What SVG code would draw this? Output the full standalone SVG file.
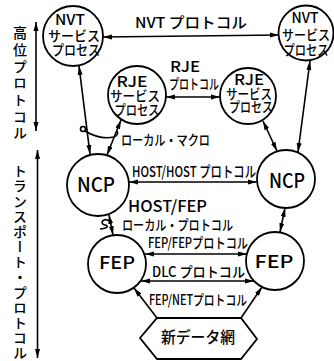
<svg xmlns="http://www.w3.org/2000/svg" width="334" height="361" viewBox="0 0 334 361">
<style>
.t{font-family:"Noto Sans CJK JP","Noto Sans",sans-serif;fill:#000;font-weight:500}
.m{text-anchor:middle}
.c{fill:#fff;stroke:#000;stroke-width:1.8}
.l{stroke:#000;stroke-width:1.6;fill:none}
.v{writing-mode:vertical-rl}
</style>
<defs>
<marker id="a" viewBox="0 0 9 6" refX="9" refY="3" markerWidth="9" markerHeight="6" markerUnits="userSpaceOnUse" orient="auto-start-reverse">
<path d="M0,0.5 L9,3 L0,5.5 z" fill="#000"/>
</marker>
</defs>
<rect width="334" height="361" fill="#fff"/>

<g id="side">
<line class="l" x1="36" y1="22" x2="36" y2="131" marker-start="url(#a)" marker-end="url(#a)"/>
<line class="l" x1="37.5" y1="150" x2="37.5" y2="358" marker-start="url(#a)" marker-end="url(#a)"/>
<text class="t v" x="20" y="26" font-size="14" textLength="114" lengthAdjust="spacing">高位プロトコル</text>
<text class="t v" x="20" y="164" font-size="14" textLength="196" lengthAdjust="spacing">トランスポート・プロトコル</text>
</g>

<g id="connectors">
<line class="l" x1="103" y1="37" x2="279" y2="35" marker-start="url(#a)" marker-end="url(#a)"/>
<line class="l" x1="166" y1="97" x2="220" y2="97" marker-start="url(#a)" marker-end="url(#a)"/>
<line class="l" x1="79" y1="66" x2="90" y2="154" marker-start="url(#a)" marker-end="url(#a)"/>
<line class="l" x1="121" y1="120" x2="107" y2="155" marker-start="url(#a)" marker-end="url(#a)"/>
<line class="l" x1="263" y1="121" x2="277" y2="151" marker-start="url(#a)" marker-end="url(#a)"/>
<line class="l" x1="310" y1="61" x2="298" y2="152" marker-start="url(#a)" marker-end="url(#a)"/>
<line class="l" x1="129" y1="182" x2="257" y2="182" marker-start="url(#a)" marker-end="url(#a)"/>
<line class="l" x1="109" y1="215" x2="113" y2="235" marker-start="url(#a)" marker-end="url(#a)"/>
<line class="l" x1="285" y1="208" x2="280" y2="232" marker-start="url(#a)" marker-end="url(#a)"/>
<line class="l" x1="145" y1="254" x2="247" y2="254" marker-start="url(#a)" marker-end="url(#a)"/>
<line class="l" x1="141" y1="281" x2="254" y2="281" marker-start="url(#a)" marker-end="url(#a)"/>
<line class="l" x1="157" y1="318" x2="134" y2="288" marker-end="url(#a)"/>
<line class="l" x1="241" y1="318" x2="262" y2="287" marker-end="url(#a)"/>
<circle class="l" cx="83" cy="129" r="2.5"/>
<path class="l" d="M85,131 Q100,140 114,137 Q119,135 117,131"/>
<path class="l" d="M111,222 C103,216 99,224 105,225 C110,226 106,229 100,229"/>
</g>

<g id="labels">
<text class="t" x="135" y="28" font-size="15" textLength="112" lengthAdjust="spacingAndGlyphs">NVT プロトコル</text>
<text class="t" x="170" y="72" font-size="15" textLength="30" lengthAdjust="spacingAndGlyphs">RJE</text>
<text class="t" x="169" y="89" font-size="14" textLength="50" lengthAdjust="spacingAndGlyphs">プロトコル</text>
<text class="t" x="121" y="145" font-size="14" textLength="89" lengthAdjust="spacingAndGlyphs">ローカル・マクロ</text>
<text class="t" x="132" y="177" font-size="15" textLength="124" lengthAdjust="spacingAndGlyphs">HOST/HOST プロトコル</text>
<text class="t" x="128" y="212" font-size="16" textLength="79" lengthAdjust="spacingAndGlyphs">HOST/FEP</text>
<text class="t" x="122" y="230" font-size="14" textLength="111" lengthAdjust="spacingAndGlyphs">ローカル・プロトコル</text>
<text class="t" x="148" y="248" font-size="14" textLength="100" lengthAdjust="spacingAndGlyphs">FEP/FEPプロトコル</text>
<text class="t" x="152" y="277" font-size="14" textLength="93" lengthAdjust="spacingAndGlyphs">DLC プロトコル</text>
<text class="t" x="149" y="305" font-size="14" textLength="98" lengthAdjust="spacingAndGlyphs">FEP/NETプロトコル</text>
</g>

<g id="nvt-left">
<circle class="c" cx="73" cy="36" r="30"/>
<text class="t m" x="70" y="25" font-size="15" textLength="30" lengthAdjust="spacingAndGlyphs">NVT</text>
<text class="t m" x="74" y="41" font-size="14" textLength="52" lengthAdjust="spacingAndGlyphs">サービス</text>
<text class="t m" x="76" y="55" font-size="14" textLength="48" lengthAdjust="spacingAndGlyphs">プロセス</text>
</g>
<g id="nvt-right">
<circle class="c" cx="306" cy="33" r="27.5"/>
<text class="t m" x="305" y="23" font-size="15" textLength="27" lengthAdjust="spacingAndGlyphs">NVT</text>
<text class="t m" x="306" y="40" font-size="14" textLength="48" lengthAdjust="spacingAndGlyphs">サービス</text>
<text class="t m" x="306" y="55" font-size="14" textLength="45" lengthAdjust="spacingAndGlyphs">プロセス</text>
</g>
<g id="rje-left">
<circle class="c" cx="137" cy="95" r="29"/>
<text class="t m" x="132" y="87" font-size="15" textLength="31" lengthAdjust="spacingAndGlyphs">RJE</text>
<text class="t m" x="135" y="101" font-size="14" textLength="50" lengthAdjust="spacingAndGlyphs">サービス</text>
<text class="t m" x="137" y="115" font-size="14" textLength="45" lengthAdjust="spacingAndGlyphs">プロセス</text>
</g>
<g id="rje-right">
<circle class="c" cx="248" cy="96" r="28"/>
<text class="t m" x="249" y="85" font-size="15" textLength="30" lengthAdjust="spacingAndGlyphs">RJE</text>
<text class="t m" x="249" y="99" font-size="14" textLength="46" lengthAdjust="spacingAndGlyphs">サービス</text>
<text class="t m" x="251" y="112" font-size="14" textLength="44" lengthAdjust="spacingAndGlyphs">プロセス</text>
</g>
<g id="ncp-left">
<circle class="c" cx="98" cy="185" r="31"/>
<text class="t m" x="96" y="192" font-size="20" textLength="38" lengthAdjust="spacingAndGlyphs">NCP</text>
</g>
<g id="ncp-right">
<circle class="c" cx="286" cy="179" r="29"/>
<text class="t m" x="287" y="188" font-size="20" textLength="36" lengthAdjust="spacingAndGlyphs">NCP</text>
</g>
<g id="fep-left">
<circle class="c" cx="117" cy="264" r="29"/>
<text class="t m" x="117" y="269" font-size="17" textLength="36" lengthAdjust="spacingAndGlyphs">FEP</text>
</g>
<g id="fep-right">
<circle class="c" cx="275" cy="261" r="29"/>
<text class="t m" x="274" y="268" font-size="17" textLength="39" lengthAdjust="spacingAndGlyphs">FEP</text>
</g>
<g id="net">
<polygon class="c" points="140,338 157,318 241,318 257,339 241,359 157,359"/>
<text class="t m" x="198" y="343" font-size="16" textLength="74" lengthAdjust="spacingAndGlyphs">新データ網</text>
</g>
</svg>
